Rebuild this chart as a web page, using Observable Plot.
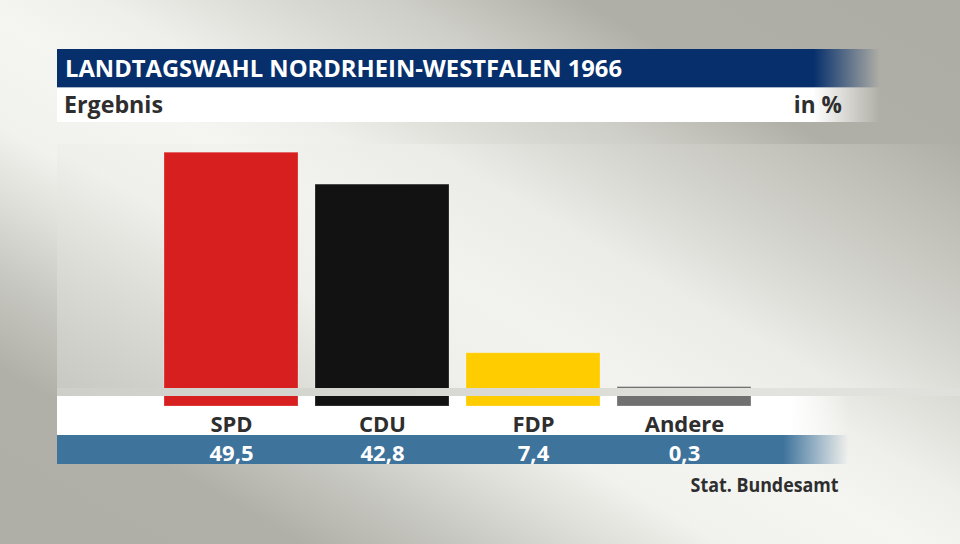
<!DOCTYPE html>
<html><head><meta charset="utf-8">
<script src="https://cdn.jsdelivr.net/npm/d3@7"></script>
<script src="https://cdn.jsdelivr.net/npm/@observablehq/plot@0.6"></script>
<style>
html,body{margin:0;padding:0;}
body{width:960px;height:544px;position:relative;overflow:hidden;font-family:"Open Sans",sans-serif;
background:linear-gradient(210deg,#aeada5 0%,#b0afa7 20%,#cfcfc9 30%,#d8d8d2 35%,#eeeeea 45%,#f5f5f2 52%,#f1f1ed 62%,#e0e0da 68%,#c6c6c0 76%,#b1b0a8 84%,#b0afa7 100%);}
.abs{position:absolute;}
#panel{left:57px;top:144px;width:903px;height:252px;background:linear-gradient(210deg,#b0afa7 0%,#d3d3cd 25%,#ebebe7 40%,#f2f2ee 55%,#efefeb 68%,#dcdcd6 82%,#d0d0ca 92%,#c8c8c2 100%);}
#titlebar{left:57px;top:49px;width:823px;height:38px;background:linear-gradient(to right,#062f6b 0%,#062f6b 91.9%,rgba(6,47,107,0) 100%);}
#titleline{left:57px;top:87px;width:823px;height:1px;background:linear-gradient(to right,#a9b6cb 0%,#a9b6cb 91.9%,rgba(169,182,203,0) 100%);}
#subbar{left:57px;top:88px;width:823px;height:34px;background:linear-gradient(to right,#fff 0%,#fff 91.9%,rgba(255,255,255,0) 100%);}
#labelstrip{left:57px;top:396px;width:793px;height:39px;background:linear-gradient(to right,#fff 0%,#fff 92.4%,rgba(255,255,255,0) 100%);}
#valuestrip{left:57px;top:435px;width:791px;height:29px;background:linear-gradient(to right,#3e739c 0%,#3e739c 91.8%,rgba(62,115,156,0) 100%);}
#band{left:57px;top:388px;width:903px;height:8px;background:linear-gradient(to right,#cfcfc9 0%,#d8d8d2 40%,#e2e2de 80%,#dfdfdb 100%);z-index:5;}
.txt{position:absolute;white-space:nowrap;font-weight:700;line-height:1;z-index:6;}
#title{left:65px;top:56.6px;font-size:23px;color:#fff;transform-origin:left center;}
#sub{left:64px;top:92.6px;font-size:23px;color:#2e2e2e;transform-origin:left center;}
#unit{right:118px;top:92.6px;font-size:23px;color:#2e2e2e;transform-origin:right center;}
#source{right:121px;top:476.1px;font-size:19px;color:#2e2e2e;transform-origin:right center;}
svg.chart{position:absolute;left:0;top:0;z-index:4;}
</style>
</head><body>
<div id="panel" class="abs"></div>
<div id="titlebar" class="abs"></div>
<div id="titleline" class="abs"></div>
<div id="subbar" class="abs"></div>
<div id="labelstrip" class="abs"></div>
<div id="valuestrip" class="abs"></div>
<div id="band" class="abs"></div>
<span id="title" class="txt">LANDTAGSWAHL NORDRHEIN-WESTFALEN 1966</span>
<span id="sub" class="txt">Ergebnis</span>
<span id="unit" class="txt">in %</span>
<span id="source" class="txt">Stat. Bundesamt</span>
<script>
const parties = ["SPD", "CDU", "FDP", "Andere"];
const values = [49.5, 42.8, 7.4, 0.3];
const valueLabels = ["49,5", "42,8", "7,4", "0,3"];
const colors = ["#d81f1f", "#121212", "#ffcc00", "#707070"];

const data = parties.map((p, i) => ({party: p, value: values[i], label: valueLabels[i]}));

const chart = Plot.plot({
  width: 960, height: 544,
  marginLeft: 156, marginRight: 200, marginTop: 126, marginBottom: 156,
  x: {domain: parties, paddingInner: 0.11, paddingOuter: 0.055, axis: null},
  y: {domain: [0, 55], axis: null},
  color: {domain: parties, range: colors},
  style: {background: "transparent", overflow: "visible", maxWidth: "none"},
  marks: [
    Plot.barY(data, {x: "party", y: "value", fill: "party", insetBottom: -18, stroke: "white", strokeOpacity: 0.25}),
    Plot.text(data, {x: "party", y: 0, text: "party", dy: 36.7, fill: "#2e2e2e", fontSize: 22, fontWeight: "bold", fontFamily: "Open Sans"}),
    Plot.text(data, {x: "party", y: 0, text: "label", dy: 65.7, fill: "white", fontSize: 22, fontWeight: "bold", fontFamily: "Open Sans"})
  ]
});
chart.classList.add("chart");
document.body.appendChild(chart);

function fit(id, target) {
  const el = document.getElementById(id);
  const w = el.getBoundingClientRect().width;
  if (w > 0) el.style.transform = `scaleX(${target / w})`;
}
fit("title", 557);
fit("sub", 99);
fit("unit", 48);
fit("source", 148);
</script>
</body></html>
